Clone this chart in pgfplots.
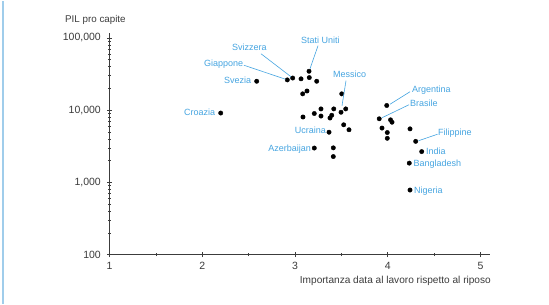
\documentclass[border=0pt]{standalone}
\usepackage{pgfplots}
\pgfplotsset{compat=1.18}
\usepackage{fontspec}
\setmainfont{Liberation Sans}
\definecolor{lblue}{RGB}{70,165,225}
\definecolor{frameblue}{RGB}{160,205,235}
\definecolor{axgrey}{RGB}{60,60,60}
\begin{document}
\begin{tikzpicture}
\fill[white] (0,0) rectangle (549bp,303bp);
\draw[frameblue, line width=1.5bp] (3bp,0) -- (3bp,303bp);
\begin{axis}[
  scale only axis,
  width=380bp, height=221.3bp,
  at={(109.5bp,49bp)}, anchor=south west,
  xmin=1, xmax=5.097,
  ymode=log, ymin=100, ymax=115000,
  axis lines=left,
  axis line style={-, axgrey, line width=0.8bp},
  tick style={axgrey, line width=0.6bp},
  tick align=center,
  major tick length=5bp, minor tick length=3bp,
  xtick={1,2,3,4,5},
  minor x tick num=1,
  ytick={100,1000,10000,100000},
  yticklabels={100,{1,000},{10,000},{100,000}},
  xticklabels={1,2,3,4,5},
  tick label style={font=\fontsize{10.5bp}{12bp}\selectfont, text=axgrey, inner sep=0pt},
  yticklabel style={anchor=east, xshift=-6bp},
  xticklabel style={anchor=north, yshift=-5bp},
  clip=false,
]
\addplot[only marks, mark=*, mark size=2.2bp, black] table {
x y
2.587 25100
2.917 26200
2.975 27800
3.065 27100
3.151 34500
3.154 28200
3.234 25100
3.083 16800
3.129 18400
3.504 16800
3.086 8040
3.208 8980
3.280 10400
3.280 8280
3.377 7780
3.396 8490
3.418 10400
3.496 9350
3.547 10400
3.367 4950
3.525 6270
3.582 5350
3.208 2990
3.413 3010
3.413 2280
3.989 11600
3.908 7590
4.030 7340
4.046 6810
3.938 5650
3.995 4900
3.995 4080
4.240 5510
4.301 3700
4.366 2670
4.232 1850
4.240 785
2.199 9120
};
\end{axis}
\begin{scope}[x=1bp, y=-1bp, shift={(0bp,303bp)},
  every node/.style={font=\fontsize{9bp}{10bp}\selectfont, inner sep=0pt}]
  \node[axgrey, anchor=west, font=\fontsize{9.8bp}{11bp}\selectfont] at (65,19) {PIL pro capite};
  \node[axgrey, anchor=east, font=\fontsize{10.1bp}{11bp}\selectfont] at (491,280) {Importanza data al lavoro rispetto al riposo};
  \begin{scope}[lblue]
  \node[anchor=west] at (232,46.7) {Svizzera};
  \draw[line width=0.6bp] (261,53) -- (291,76);
  \node[anchor=west] at (204,63.3) {Giappone};
  \draw[line width=0.6bp] (244,64.5) -- (285.5,78.5);
  \node[anchor=west] at (224,80) {Svezia};
  \node[anchor=west] at (184,112) {Croazia};
  \node[anchor=west] at (301,39.3) {Stati Uniti};
  \draw[line width=0.6bp] (318,45) -- (310,68);
  \node[anchor=west] at (333,73.3) {Messico};
  \draw[line width=0.6bp] (346,80) -- (342,105);
  \node[anchor=west] at (412,89.3) {Argentina};
  \draw[line width=0.6bp] (410,91) -- (390,103.5);
  \node[anchor=west] at (410,102.7) {Brasile};
  \draw[line width=0.6bp] (409,104) -- (382,117);
  \node[anchor=west] at (438,132.7) {Filippine};
  \draw[line width=0.6bp] (437.5,133.5) -- (418.5,140);
  \node[anchor=west] at (426,151) {India};
  \node[anchor=west] at (413.5,163) {Bangladesh};
  \node[anchor=west] at (414,190) {Nigeria};
  \node[anchor=east] at (326,129.5) {Ucraina};
  \node[anchor=east] at (311,148) {Azerbaijan};
  \end{scope}
\end{scope}
\end{tikzpicture}
\end{document}
